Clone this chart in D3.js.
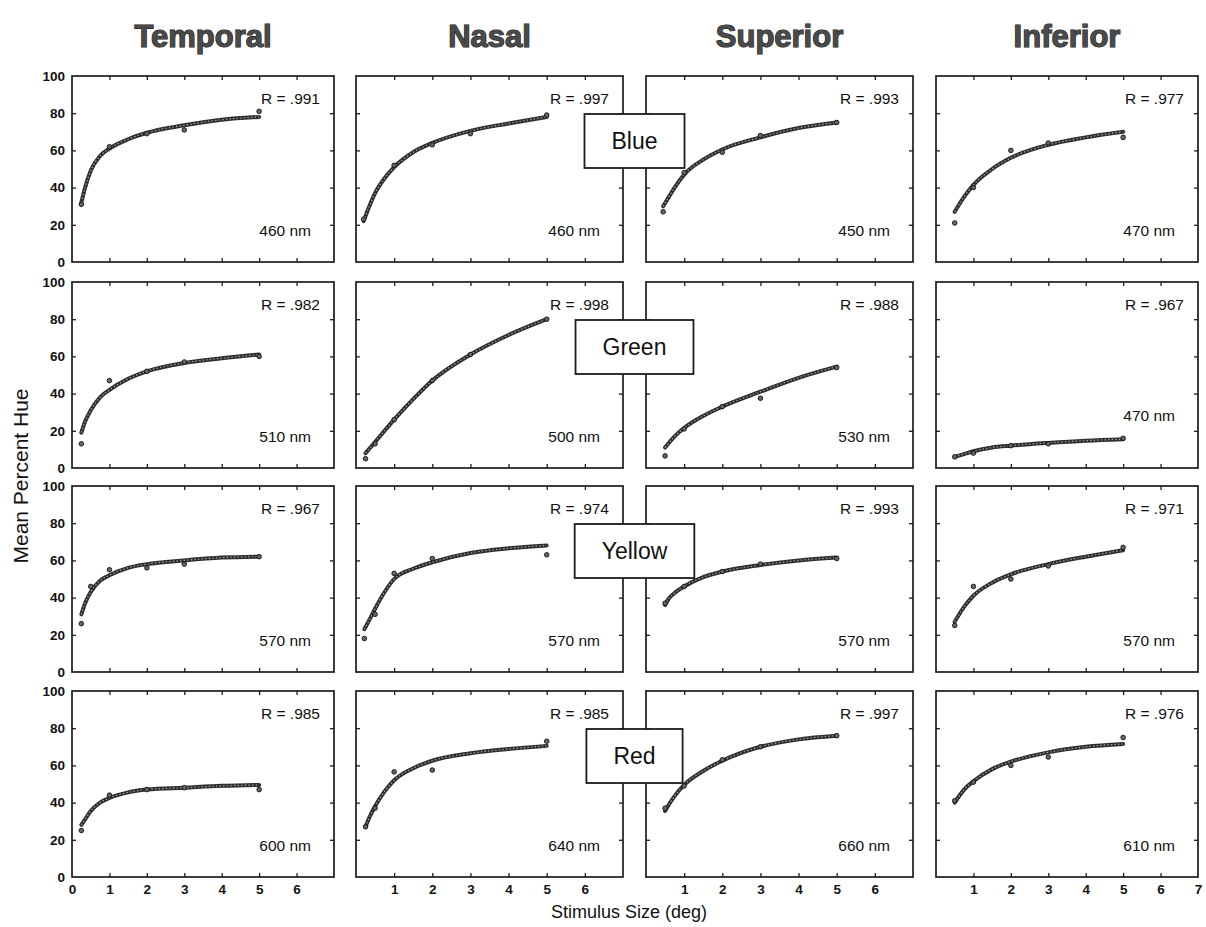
<!DOCTYPE html>
<html>
<head>
<meta charset="utf-8">
<script src="https://cdn.jsdelivr.net/npm/d3@7"></script>
<style>
  html, body { margin: 0; padding: 0; background: #fff; }
  svg { display: block; font-family: "Liberation Sans", Arial, Helvetica, sans-serif; }
</style>
</head>
<body>
<script>
// Retinal regions (columns) and hue categories (rows)
const regions = ["Temporal", "Nasal", "Superior", "Inferior"];
const hues = ["Blue", "Green", "Yellow", "Red"];

// Correlation of each fit, row by row (hue) and column by column (region)
const rValues = [
  [".991", ".997", ".993", ".977"],
  [".982", ".998", ".988", ".967"],
  [".967", ".974", ".993", ".971"],
  [".985", ".985", ".997", ".976"]
];

// Stimulus wavelength per panel (nm)
const wavelengths = [
  [460, 460, 450, 470],
  [510, 500, 530, 470],
  [570, 570, 570, 570],
  [600, 640, 660, 610]
];

// Fitted curves: [stimulus size (deg), mean percent hue], one list per region
const blueFit = [
  [[0.25, 32], [0.35, 40], [0.5, 49], [0.75, 57], [1, 61], [1.5, 66], [2, 69.5], [3, 73.5], [4, 76.5], [5, 78]],
  [[0.2, 22], [0.35, 30], [0.5, 37], [0.75, 45], [1, 51], [1.5, 59], [2, 64], [3, 70.5], [4, 74.5], [5, 78]],
  [[0.45, 30], [0.6, 35], [0.75, 40], [1, 47], [1.5, 55], [2, 60.5], [3, 67], [4, 72], [5, 75]],
  [[0.5, 27], [0.75, 35], [1, 41.5], [1.5, 50], [2, 56], [3, 63], [4, 67], [5, 70]]
];
const greenFit = [
  [[0.25, 19], [0.35, 25], [0.5, 31], [0.75, 38], [1, 42], [1.5, 48], [2, 52], [3, 56.5], [4, 59], [5, 61]],
  [[0.25, 8], [0.5, 14], [1, 26], [1.5, 37], [2, 47], [3, 61], [4, 71.5], [5, 80]],
  [[0.5, 11], [0.75, 17], [1, 21.5], [1.5, 28], [2, 33], [3, 41], [4, 48.5], [5, 54.5]],
  [[0.5, 6], [0.75, 7.5], [1, 9], [1.5, 11], [2, 12], [3, 13.5], [4, 14.7], [5, 15.5]]
];
const yellowFit = [
  [[0.25, 31], [0.35, 37], [0.5, 43], [0.75, 49], [1, 52], [1.5, 56], [2, 58], [3, 60], [4, 61.5], [5, 62]],
  [[0.22, 23], [0.35, 28], [0.5, 34], [0.75, 43], [1, 50], [1.5, 55.5], [2, 59], [3, 64], [4, 66.5], [5, 68]],
  [[0.5, 36], [0.6, 39.5], [0.75, 42.5], [1, 46], [1.5, 51], [2, 54], [3, 57.5], [4, 60], [5, 61.5]],
  [[0.5, 27], [0.75, 35], [1, 41], [1.5, 48], [2, 52.5], [3, 58], [4, 62], [5, 65.5]]
];
const redFit = [
  [[0.25, 28], [0.35, 31], [0.5, 35.5], [0.75, 40], [1, 42.5], [1.5, 45.5], [2, 47], [3, 48], [4, 49], [5, 49.5]],
  [[0.25, 27], [0.35, 32], [0.5, 38], [0.75, 46], [1, 52], [1.5, 58.5], [2, 62.5], [3, 66.5], [4, 68.8], [5, 70.5]],
  [[0.5, 35.5], [0.6, 39], [0.75, 43.5], [1, 49.5], [1.5, 57], [2, 62.5], [3, 70], [4, 74], [5, 76]],
  [[0.5, 40], [0.6, 43], [0.75, 47], [1, 51.5], [1.5, 58], [2, 62], [3, 67], [4, 70], [5, 71.5]]
];

// Observed means: [stimulus size (deg), mean percent hue]
const bluePoints = [
  [[0.25, 31], [1, 62], [2, 69], [3, 71], [5, 81]],
  [[0.2, 23], [1, 52], [2, 63], [3, 69], [5, 79]],
  [[0.45, 27], [1, 48], [2, 59], [3, 68], [5, 75]],
  [[0.5, 21], [1, 40], [2, 60], [3, 64], [5, 67]]
];
const greenPoints = [
  [[0.25, 13], [1, 47], [2, 52], [3, 57], [5, 60]],
  [[0.25, 5], [0.5, 13], [1, 26], [2, 47], [3, 61], [5, 80]],
  [[0.5, 6.5], [1, 21], [2, 33], [3, 37.5], [5, 54]],
  [[0.5, 6], [1, 8], [2, 12], [3, 13], [5, 16]]
];
const yellowPoints = [
  [[0.25, 26], [0.5, 46], [1, 55], [2, 56], [3, 58], [5, 62]],
  [[0.22, 18], [0.5, 31], [1, 53], [2, 61], [5, 63]],
  [[0.5, 37], [1, 46], [2, 54], [3, 58], [5, 61]],
  [[0.5, 25], [1, 46], [2, 50], [3, 57], [5, 67]]
];
const redPoints = [
  [[0.25, 25], [1, 44], [2, 47], [3, 48], [5, 47]],
  [[0.25, 27], [0.5, 37], [1, 56.5], [2, 57.5], [5, 73]],
  [[0.5, 37], [1, 49], [2, 63], [3, 70], [5, 76]],
  [[0.5, 41], [1, 51], [2, 60], [3, 64.5], [5, 75]]
];

const fits = [blueFit, greenFit, yellowFit, redFit];
const points = [bluePoints, greenPoints, yellowPoints, redPoints];

// Axis ticks and their labels
const xTickMarks = [1, 2, 3, 4, 5, 6];
const xTickLabels = [
  [0, 1, 2, 3, 4, 5, 6],
  [1, 2, 3, 4, 5, 6],
  [1, 2, 3, 4, 5, 6],
  [1, 2, 3, 4, 5, 6, 7]
];
const yTicks = [0, 20, 40, 60, 80, 100];

// ---- layout ----
const W = 1206, H = 927;
const colLeft = [72, 356, 646, 936];
const colWidth = [262, 267, 267, 262];
const rowTop = [76, 282, 486, 691];
const rowHeight = 186;

const svg = d3.select("body").append("svg")
  .attr("width", W).attr("height", H);
svg.append("rect").attr("width", W).attr("height", H).attr("fill", "#fff");

const ink = "#1c1c1c";
const line = d3.line().curve(d3.curveMonotoneX);
const intFormat = d3.format("d");

hues.forEach((hue, r) => {
  regions.forEach((region, c) => {
    const left = colLeft[c], w = colWidth[c];
    const top = rowTop[r], h = rowHeight;
    const x = d3.scaleLinear().domain([0, 7]).range([left, left + w]);
    const y = d3.scaleLinear().domain([0, 100]).range([top + h, top]);
    const g = svg.append("g").attr("class", "panel");

    // inward tick marks on all four sides
    const tickStyle = sel => {
      sel.select(".domain").remove();
      sel.selectAll(".tick line").attr("stroke", ink).attr("stroke-width", 1.3);
    };
    g.append("g").attr("transform", `translate(0,${top + h})`)
      .call(d3.axisBottom(x).tickValues(xTickMarks).tickSize(-4).tickFormat(""))
      .call(tickStyle);
    g.append("g").attr("transform", `translate(0,${top})`)
      .call(d3.axisTop(x).tickValues(xTickMarks).tickSize(-4).tickFormat(""))
      .call(tickStyle);
    g.append("g").attr("transform", `translate(${left},0)`)
      .call(d3.axisLeft(y).tickValues(yTicks.slice(1, -1)).tickSize(-4).tickFormat(""))
      .call(tickStyle);
    g.append("g").attr("transform", `translate(${left + w},0)`)
      .call(d3.axisRight(y).tickValues(yTicks.slice(1, -1)).tickSize(-4).tickFormat(""))
      .call(tickStyle);

    // tick labels: y on the first column, x on the bottom row
    const labelStyle = sel => {
      sel.select(".domain").remove();
      sel.selectAll("text").attr("font-size", 13.5).attr("font-weight", "bold").attr("fill", "#111")
        .attr("font-family", "Liberation Sans, Arial, sans-serif");
    };
    if (c === 0) {
      g.append("g").attr("transform", `translate(${left},0)`)
        .call(d3.axisLeft(y).tickValues(yTicks).tickSize(0).tickPadding(7).tickFormat(intFormat))
        .call(labelStyle);
    }
    if (r === hues.length - 1) {
      g.append("g").attr("transform", `translate(0,${top + h})`)
        .call(d3.axisBottom(x).tickValues(xTickLabels[c]).tickSize(0).tickPadding(7).tickFormat(intFormat))
        .call(labelStyle);
    }

    // panel frame
    g.append("rect")
      .attr("x", left).attr("y", top).attr("width", w).attr("height", h)
      .attr("fill", "none").attr("stroke", ink).attr("stroke-width", 1.7);

    // fitted curve: dark band with a beaded light core
    const fit = fits[r][c];
    line.x(d => x(d[0])).y(d => y(d[1]));
    g.append("path").attr("d", line(fit))
      .attr("fill", "none").attr("stroke", "#2e2e2e").attr("stroke-width", 4)
      .attr("stroke-linecap", "round");
    g.append("path").attr("d", line(fit))
      .attr("fill", "none").attr("stroke", "#a8a8a8").attr("stroke-width", 1.2)
      .attr("stroke-dasharray", "1.4 2.2");

    // observed means
    g.selectAll("circle.obs").data(points[r][c]).join("circle")
      .attr("class", "obs")
      .attr("cx", d => x(d[0])).attr("cy", d => y(d[1]))
      .attr("r", 2.3).attr("fill", "#666").attr("stroke", "#111").attr("stroke-width", 0.9);

    // correlation label
    g.append("text")
      .attr("x", left + w - 14).attr("y", top + 28)
      .attr("text-anchor", "end").attr("font-size", 15.5).attr("fill", "#111")
      .text(`R = ${rValues[r][c]}`);

    // wavelength label, lifted above the curve when the curve ends low
    const end = fit[fit.length - 1];
    const nmDefault = top + h - 26;
    const nmY = y(end[1]) > nmDefault - 20 ? y(end[1]) - 18 : nmDefault;
    g.append("text")
      .attr("x", left + w - 23).attr("y", nmY)
      .attr("text-anchor", "end").attr("font-size", 15.5).attr("fill", "#111")
      .text(`${wavelengths[r][c]} nm`);
  });
});

// hue name boxes straddling the Nasal / Superior gap
const boxCx = (colLeft[1] + colWidth[1] + colLeft[2]) / 2;
hues.forEach((hue, r) => {
  const cy = rowTop[r] + 65;
  const g = svg.append("g");
  const rect = g.append("rect");
  const t = g.append("text")
    .attr("x", boxCx).attr("y", cy).attr("dy", "0.35em")
    .attr("text-anchor", "middle").attr("font-size", 23).attr("fill", "#111")
    .text(hue);
  const tw = t.node().getComputedTextLength();
  rect.attr("x", boxCx - tw / 2 - 27).attr("y", cy - 27)
    .attr("width", tw + 54).attr("height", 54)
    .attr("fill", "#fff").attr("stroke", ink).attr("stroke-width", 1.8);
});

// region titles
regions.forEach((region, c) => {
  svg.append("text")
    .attr("x", colLeft[c] + colWidth[c] / 2).attr("y", 47)
    .attr("text-anchor", "middle")
    .attr("font-size", 31).attr("font-weight", "bold")
    .attr("fill", "#4a4a4a").attr("stroke", "#111").attr("stroke-width", 1.1)
    .attr("paint-order", "stroke")
    .text(region);
});

// axis titles
svg.append("text")
  .attr("transform", "translate(28,476) rotate(-90)")
  .attr("text-anchor", "middle").attr("font-size", 21).attr("fill", "#111")
  .text("Mean Percent Hue");
svg.append("text")
  .attr("x", 629).attr("y", 918)
  .attr("text-anchor", "middle").attr("font-size", 18).attr("fill", "#111")
  .text("Stimulus Size (deg)");
</script>
</body>
</html>
